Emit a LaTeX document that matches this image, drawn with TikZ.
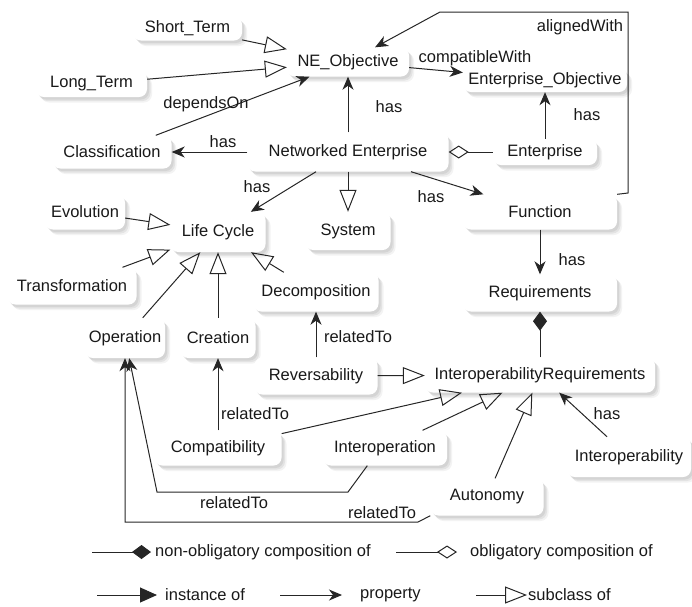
\documentclass[tikz,border=0pt]{standalone}
\usepackage{fontspec}
\setmainfont{Liberation Sans}
\usetikzlibrary{arrows.meta,%
                shadows}

\begin{document}
\begin{tikzpicture}[x=10pt,y=-10pt]
  \useasboundingbox (0,0) rectangle (69.2,60.6);
  \tikzstyle{cls}=[fill=white,rounded corners=8pt,inner xsep=3pt,
    drop shadow={shadow xshift=5pt,shadow yshift=-5.5pt,fill=black!40,opacity=0.12},
    drop shadow={shadow xshift=3.5pt,shadow yshift=-4pt,fill=black!40,opacity=0.18},
    drop shadow={shadow xshift=2pt,shadow yshift=-2.5pt,fill=black!40,opacity=0.2},
    font=\fontsize{16.5}{19}\selectfont,text=black!90]
  \tikzstyle{lbl}=[inner sep=1pt,font=\fontsize{16.5}{19}\selectfont,text=black!90]
  \tikzstyle{prop}=[line width=1pt,draw=black!85,-{Stealth[length=13pt,width=11pt,inset=4pt]}]
  \tikzstyle{sub}=[line width=1pt,draw=black!85,-{Triangle[open,length=22pt,width=17pt]}]
  \tikzstyle{inst}=[line width=1pt,draw=black!85,-{Triangle[length=17pt,width=15pt]}]
  \tikzstyle{obl}=[line width=1pt,draw=black!85,-{Diamond[open,length=20pt,width=13pt]}]
  \tikzstyle{nobl}=[line width=1pt,draw=black!85,-{Diamond[length=19pt,width=14pt]}]
  % objectives
  \node[cls,minimum width=109pt,minimum height=24pt] (st) at (18.75,2.85) {Short\_Term};
  \node[cls,minimum width=111pt,minimum height=26pt] (lt) at (9.15,8.4) {Long\_Term};
  \node[cls,minimum width=122pt,minimum height=29pt] (neo) at (34.8,6.2) {NE\_Objective};
  \node[cls,minimum width=164pt,minimum height=24pt] (eo) at (54.5,8.0) {Enterprise\_Objective};
  \node[cls,minimum width=119pt,minimum height=33pt] (cl) at (11.2,15.2) {Classification};
  \node[cls,minimum width=201pt,minimum height=39pt] (ne) at (34.8,15.2) {Networked Enterprise};
  \node[cls,minimum width=104pt,minimum height=26pt] (ent) at (54.5,15.2) {Enterprise};
  % life cycle
  \node[cls,minimum width=80pt,minimum height=35pt] (evo) at (8.5,21.2) {Evolution};
  \node[cls,minimum width=95pt,minimum height=40pt] (lc) at (21.8,23.2) {Life Cycle};
  \node[cls,minimum width=85pt,minimum height=38pt] (sys) at (34.8,23.1) {System};
  \node[cls,minimum width=154pt,minimum height=35pt] (fn) at (54.0,21.2) {Function};
  \node[cls,minimum width=129pt,minimum height=37pt] (tr) at (7.2,28.6) {Transformation};
  \node[cls,minimum width=125pt,minimum height=39pt] (dec) at (31.6,29.2) {Decomposition};
  \node[cls,minimum width=154pt,minimum height=37pt] (req) at (54.0,29.3) {Requirements};
  \node[cls,minimum width=80pt,minimum height=40pt] (op) at (12.5,33.8) {Operation};
  \node[cls,minimum width=75pt,minimum height=40pt] (cr) at (21.8,33.8) {Creation};
  % requirements
  \node[cls,minimum width=123pt,minimum height=37pt] (rev) at (31.6,37.6) {Reversability};
  \node[cls,minimum width=230pt,minimum height=35pt] (ir) at (54.0,37.5) {InteroperabilityRequirements};
  \node[cls,minimum width=127pt,minimum height=35pt] (comp) at (21.8,44.8) {Compatibility};
  \node[cls,minimum width=124pt,minimum height=35pt] (iop) at (38.5,44.8) {Interoperation};
  \node[cls,minimum width=124pt,minimum height=40pt] (iopy) at (62.9,45.7) {Interoperability};
  \node[cls,minimum width=113pt,minimum height=37pt] (aut) at (48.7,49.7) {Autonomy};
  % subclass of
  \draw[sub] (st) -- (neo);
  \draw[sub] (lt) -- (neo);
  \draw[sub] (ne) -- (sys);
  \draw[sub] (evo) -- (lc);
  \draw[sub] (tr) -- (lc);
  \draw[sub] (op) -- (lc);
  \draw[sub] (cr) -- (lc);
  \draw[sub] (dec) -- (lc);
  \draw[sub] (rev) -- (ir);
  \draw[sub] (comp) -- (ir);
  \draw[sub] (iop) -- (ir);
  \draw[sub] (aut) -- (ir);
  % properties
  \draw[prop] (cl) -- (neo);
  \draw[prop] (ne) -- (cl);
  \draw[prop] (ne) -- (neo);
  \draw[prop] (neo) -- (eo);
  \draw[prop] (ent) -- (eo);
  \draw[prop] (ne) -- (lc);
  \draw[prop] (ne) -- (fn);
  \draw[prop] (fn) -- (req);
  \draw[prop] (rev) -- (dec);
  \draw[prop] (comp) -- (cr);
  \draw[prop] (iopy) -- (ir);
  \coordinate (awa) at (62.8,19.3);
  \coordinate (awb) at (44.0,1.2);
  \draw[prop] (fn.north east) -- (awa) |- (awb) -- (neo);
  \coordinate (rta) at (34.8,49.2);
  \coordinate (rtb) at (15.7,49.2);
  \draw[prop] (iop.225) -- (rta) -- (rtb) -- (op);
  \coordinate (rtc) at (41.8,52.2);
  \draw[prop] (aut.south west) -- (rtc) -| (op.south);
  % compositions
  \draw[obl] (ent) -- (ne);
  \draw[nobl] (ir) -- (req);
  % edge labels
  \node[lbl] (l1) at (20.6,10.4) {dependsOn};
  \node[lbl] (l2) at (22.3,14.2) {has};
  \node[lbl] (l3) at (38.9,10.7) {has};
  \node[lbl] (l4) at (47.5,5.8) {compatibleWith};
  \node[lbl] (l5) at (58.0,2.7) {alignedWith};
  \node[lbl] (l6) at (58.7,11.5) {has};
  \node[lbl] (l7) at (25.7,18.7) {has};
  \node[lbl] (l8) at (43.1,19.7) {has};
  \node[lbl] (l9) at (57.2,26.0) {has};
  \node[lbl] (l10) at (35.8,33.7) {relatedTo};
  \node[lbl] (l11) at (25.5,41.4) {relatedTo};
  \node[lbl] (l12) at (60.7,41.4) {has};
  \node[lbl] (l13) at (23.4,50.3) {relatedTo};
  \node[lbl] (l14) at (38.2,51.3) {relatedTo};
  % legend
  \coordinate (k1) at (9.2,55.2);
  \node[lbl,anchor=west] (t1) at (15.4,55.2) {non-obligatory composition of};
  \draw[nobl,shorten >=3pt] (k1) -- (t1.west);
  \coordinate (k2) at (39.6,55.2);
  \node[lbl,anchor=west] (t2) at (46.9,55.2) {obligatory composition of};
  \draw[obl,shorten >=12pt] (k2) -- (t2.west);
  \coordinate (k3) at (9.7,59.5);
  \node[lbl,anchor=west] (t3) at (16.4,59.5) {instance of};
  \draw[inst,shorten >=7pt] (k3) -- (t3.west);
  \coordinate (k4) at (28.0,59.5);
  \node[lbl,anchor=west] (t4) at (35.9,59.5) {property};
  \draw[prop,shorten >=17pt] (k4) -- (t4.west);
  \coordinate (k5) at (47.6,59.5);
  \node[lbl,anchor=west] (t5) at (52.7,59.5) {subclass of};
  \draw[sub] (k5) -- (t5.west);
\end{tikzpicture}
\end{document}
